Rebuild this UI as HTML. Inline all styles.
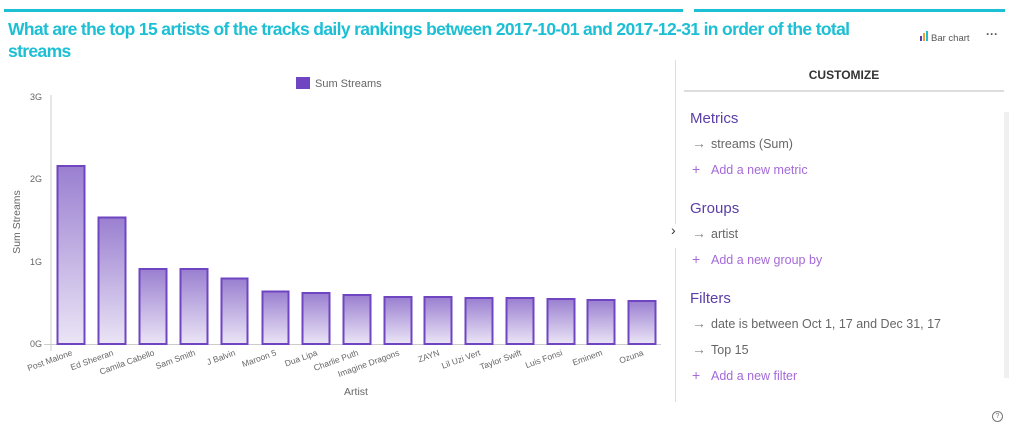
<!DOCTYPE html>
<html><head><meta charset="utf-8"><style>
body{margin:0;width:1024px;height:442px;background:#fff;font-family:"Liberation Sans",sans-serif;position:relative;overflow:hidden}
.abs{position:absolute}
.title{left:8px;top:18px;width:900px;color:#1cbfd3;font-size:17.5px;font-weight:bold;line-height:22px;letter-spacing:-0.65px}
.h{color:#5b3ea6;font-size:15px}
.it{color:#666;font-size:12.5px}
.add{color:#a56ad8;font-size:12.5px}
.ar{color:#888;font-size:14px;display:inline-block;width:19px}
.pl{color:#a56ad8;font-size:14px;display:inline-block;width:19px}
</style></head><body>
<div class="abs" style="left:4px;top:9px;width:679px;height:3px;background:#1cbfd3"></div>
<div class="abs" style="left:694px;top:9px;width:311px;height:3px;background:#1cbfd3"></div>
<div class="abs title">What are the top 15 artists of the tracks daily rankings between 2017-10-01 and 2017-12-31 in order of the total<br>streams</div>
<div class="abs" style="left:920px;top:31px;font-size:9.5px;color:#555">
<span style="display:inline-block;width:2px;height:5px;background:#5b3ea6;margin-right:1px"></span><span style="display:inline-block;width:2px;height:8px;background:#f0a030;margin-right:1px"></span><span style="display:inline-block;width:2px;height:10px;background:#1cbfd3;margin-right:3px"></span>Bar chart</div>
<div class="abs" style="left:986px;top:27px;font-size:12px;color:#555;font-weight:bold">···</div>
<div class="abs" style="left:675px;top:60px;width:1px;height:164px;background:#ddd"></div>
<div class="abs" style="left:675px;top:248px;width:1px;height:154px;background:#ddd"></div>
<div class="abs" style="left:671px;top:222px;font-size:14px;color:#333">›</div>
<div class="abs" style="left:684px;top:68px;width:320px;text-align:center;font-size:12px;font-weight:bold;color:#333">CUSTOMIZE</div>
<div class="abs" style="left:684px;top:90px;width:320px;height:2px;background:#ddd"></div>
<div class="abs" style="left:1004px;top:112px;width:5px;height:266px;background:#f0f0f0"></div>
<div class="abs h" style="left:690px;top:110px">Metrics</div>
<div class="abs it" style="left:692px;top:135px"><span class="ar">→</span>streams (Sum)</div>
<div class="abs add" style="left:692px;top:161px"><span class="pl">+</span>Add a new metric</div>
<div class="abs h" style="left:690px;top:200px">Groups</div>
<div class="abs it" style="left:692px;top:225px"><span class="ar">→</span>artist</div>
<div class="abs add" style="left:692px;top:251px"><span class="pl">+</span>Add a new group by</div>
<div class="abs h" style="left:690px;top:290px">Filters</div>
<div class="abs it" style="left:692px;top:315px"><span class="ar">→</span>date is between Oct 1, 17 and Dec 31, 17</div>
<div class="abs it" style="left:692px;top:341px"><span class="ar">→</span>Top 15</div>
<div class="abs add" style="left:692px;top:367px"><span class="pl">+</span>Add a new filter</div>
<div class="abs" style="left:992px;top:411px;width:9px;height:9px;border:1.5px solid #777;border-radius:50%;font-size:7px;text-align:center;line-height:9px;color:#777">?</div>
<svg class="abs" style="left:0;top:0" width="670" height="442">
<defs><linearGradient id="g" x1="0" y1="0" x2="0" y2="1"><stop offset="0" stop-color="#9a7fd0"/><stop offset="1" stop-color="#ebe5f6"/></linearGradient></defs>
<rect x="296" y="77" width="14" height="12" fill="#6f45c2"/>
<text x="315" y="87" font-size="11" fill="#666">Sum Streams</text>
<g font-size="9" fill="#666" text-anchor="end">
<text x="42" y="100">3G</text><text x="42" y="182">2G</text><text x="42" y="265">1G</text><text x="42" y="347">0G</text></g>
<line x1="51" y1="95" x2="51" y2="351" stroke="#ccc"/>
<line x1="44" y1="344.5" x2="661" y2="344.5" stroke="#ccc"/>
<text transform="translate(20,222) rotate(-90)" font-size="10.5" fill="#666" text-anchor="middle">Sum Streams</text>
<text x="356" y="395" font-size="10.5" fill="#666" text-anchor="middle">Artist</text>
<g stroke="#6f45c2" stroke-width="2" fill="url(#g)">
<rect x="57.5" y="166" width="27" height="178"/>
<rect x="98.5" y="217.5" width="27" height="126.5"/>
<rect x="139.5" y="269" width="27" height="75"/>
<rect x="180.5" y="269" width="27" height="75"/>
<rect x="221.5" y="278.5" width="26" height="65.5"/>
<rect x="262.5" y="291.5" width="26" height="52.5"/>
<rect x="302.5" y="293" width="27" height="51"/>
<rect x="343.5" y="295" width="27" height="49"/>
<rect x="384.5" y="297" width="27" height="47"/>
<rect x="424.5" y="297" width="27" height="47"/>
<rect x="465.5" y="298" width="27" height="46"/>
<rect x="506.5" y="298" width="27" height="46"/>
<rect x="547.5" y="299" width="27" height="45"/>
<rect x="587.5" y="300" width="27" height="44"/>
<rect x="628.5" y="301" width="27" height="43"/>
</g>
<g font-size="8.5" fill="#666" text-anchor="end">
<text transform="translate(73,355) rotate(-20)">Post Malone</text>
<text transform="translate(114,355) rotate(-20)">Ed Sheeran</text>
<text transform="translate(155,355) rotate(-20)">Camila Cabello</text>
<text transform="translate(196,355) rotate(-20)">Sam Smith</text>
<text transform="translate(236,355) rotate(-20)">J Balvin</text>
<text transform="translate(277,355) rotate(-20)">Maroon 5</text>
<text transform="translate(318,355) rotate(-20)">Dua Lipa</text>
<text transform="translate(359,355) rotate(-20)">Charlie Puth</text>
<text transform="translate(400,355) rotate(-20)">Imagine Dragons</text>
<text transform="translate(440,355) rotate(-20)">ZAYN</text>
<text transform="translate(481,355) rotate(-20)">Lil Uzi Vert</text>
<text transform="translate(522,355) rotate(-20)">Taylor Swift</text>
<text transform="translate(563,355) rotate(-20)">Luis Fonsi</text>
<text transform="translate(603,355) rotate(-20)">Eminem</text>
<text transform="translate(644,355) rotate(-20)">Ozuna</text>
</g>
</svg>
</body></html>
